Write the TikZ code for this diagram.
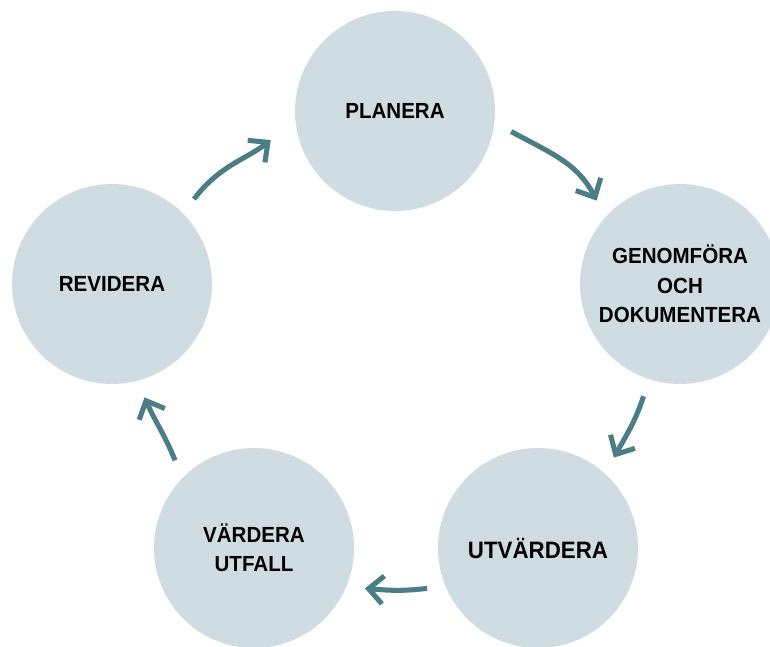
\documentclass[tikz,border=0pt]{standalone}
\usepackage{fontspec}
\setmainfont{Liberation Sans}
\newfontfamily\phasefont{Liberation Sans}[FakeStretch=0.94]
\usepackage{xcolor}
\usepackage{tikz}
\usetikzlibrary{arrows.meta}
\definecolor{phasefill}{HTML}{CFDDE3}
\definecolor{cyclearrow}{HTML}{4A7D85}

\begin{document}
\begin{tikzpicture}[
  x=0.75pt, y=0.75pt,
  phase/.style={circle,fill=phasefill,minimum size=150pt,inner sep=0pt,outer sep=13.5pt,align=center,font=\phasefont\bfseries\fontsize{16.4}{22}\selectfont},
  arr/.style={draw=cyclearrow,line width=3.8pt,-{Straight Barb[length=11pt,width=21pt]}}
]
\useasboundingbox (0,0) rectangle (770,646);
\node[phase] (planera) at (395,535) {PLANERA};
\node[phase] (genom) at (680,362) {GENOMFÖRA\\OCH\\DOKUMENTERA};
\node[phase, font=\phasefont\bfseries\fontsize{17.8}{22}\selectfont] (utv) at (538,98) {UTVÄRDERA};
\node[phase] (vard) at (254,98) {VÄRDERA\\UTFALL};
\node[phase] (rev) at (112,362) {REVIDERA};
\draw[arr] (planera.-10) to[out=-29,in=117] (genom.135);
\draw[arr] (genom.-108) to[out=-108,in=61] (utv.50);
\draw[arr] (utv.200) to[out=187,in=-5] (vard.-20);
\draw[arr] (vard.132) to[out=112,in=-66] (rev.-74);
\draw[arr, shorten >=8pt] (rev.46) to[out=53,in=218] (planera.191);
\end{tikzpicture}
\end{document}
